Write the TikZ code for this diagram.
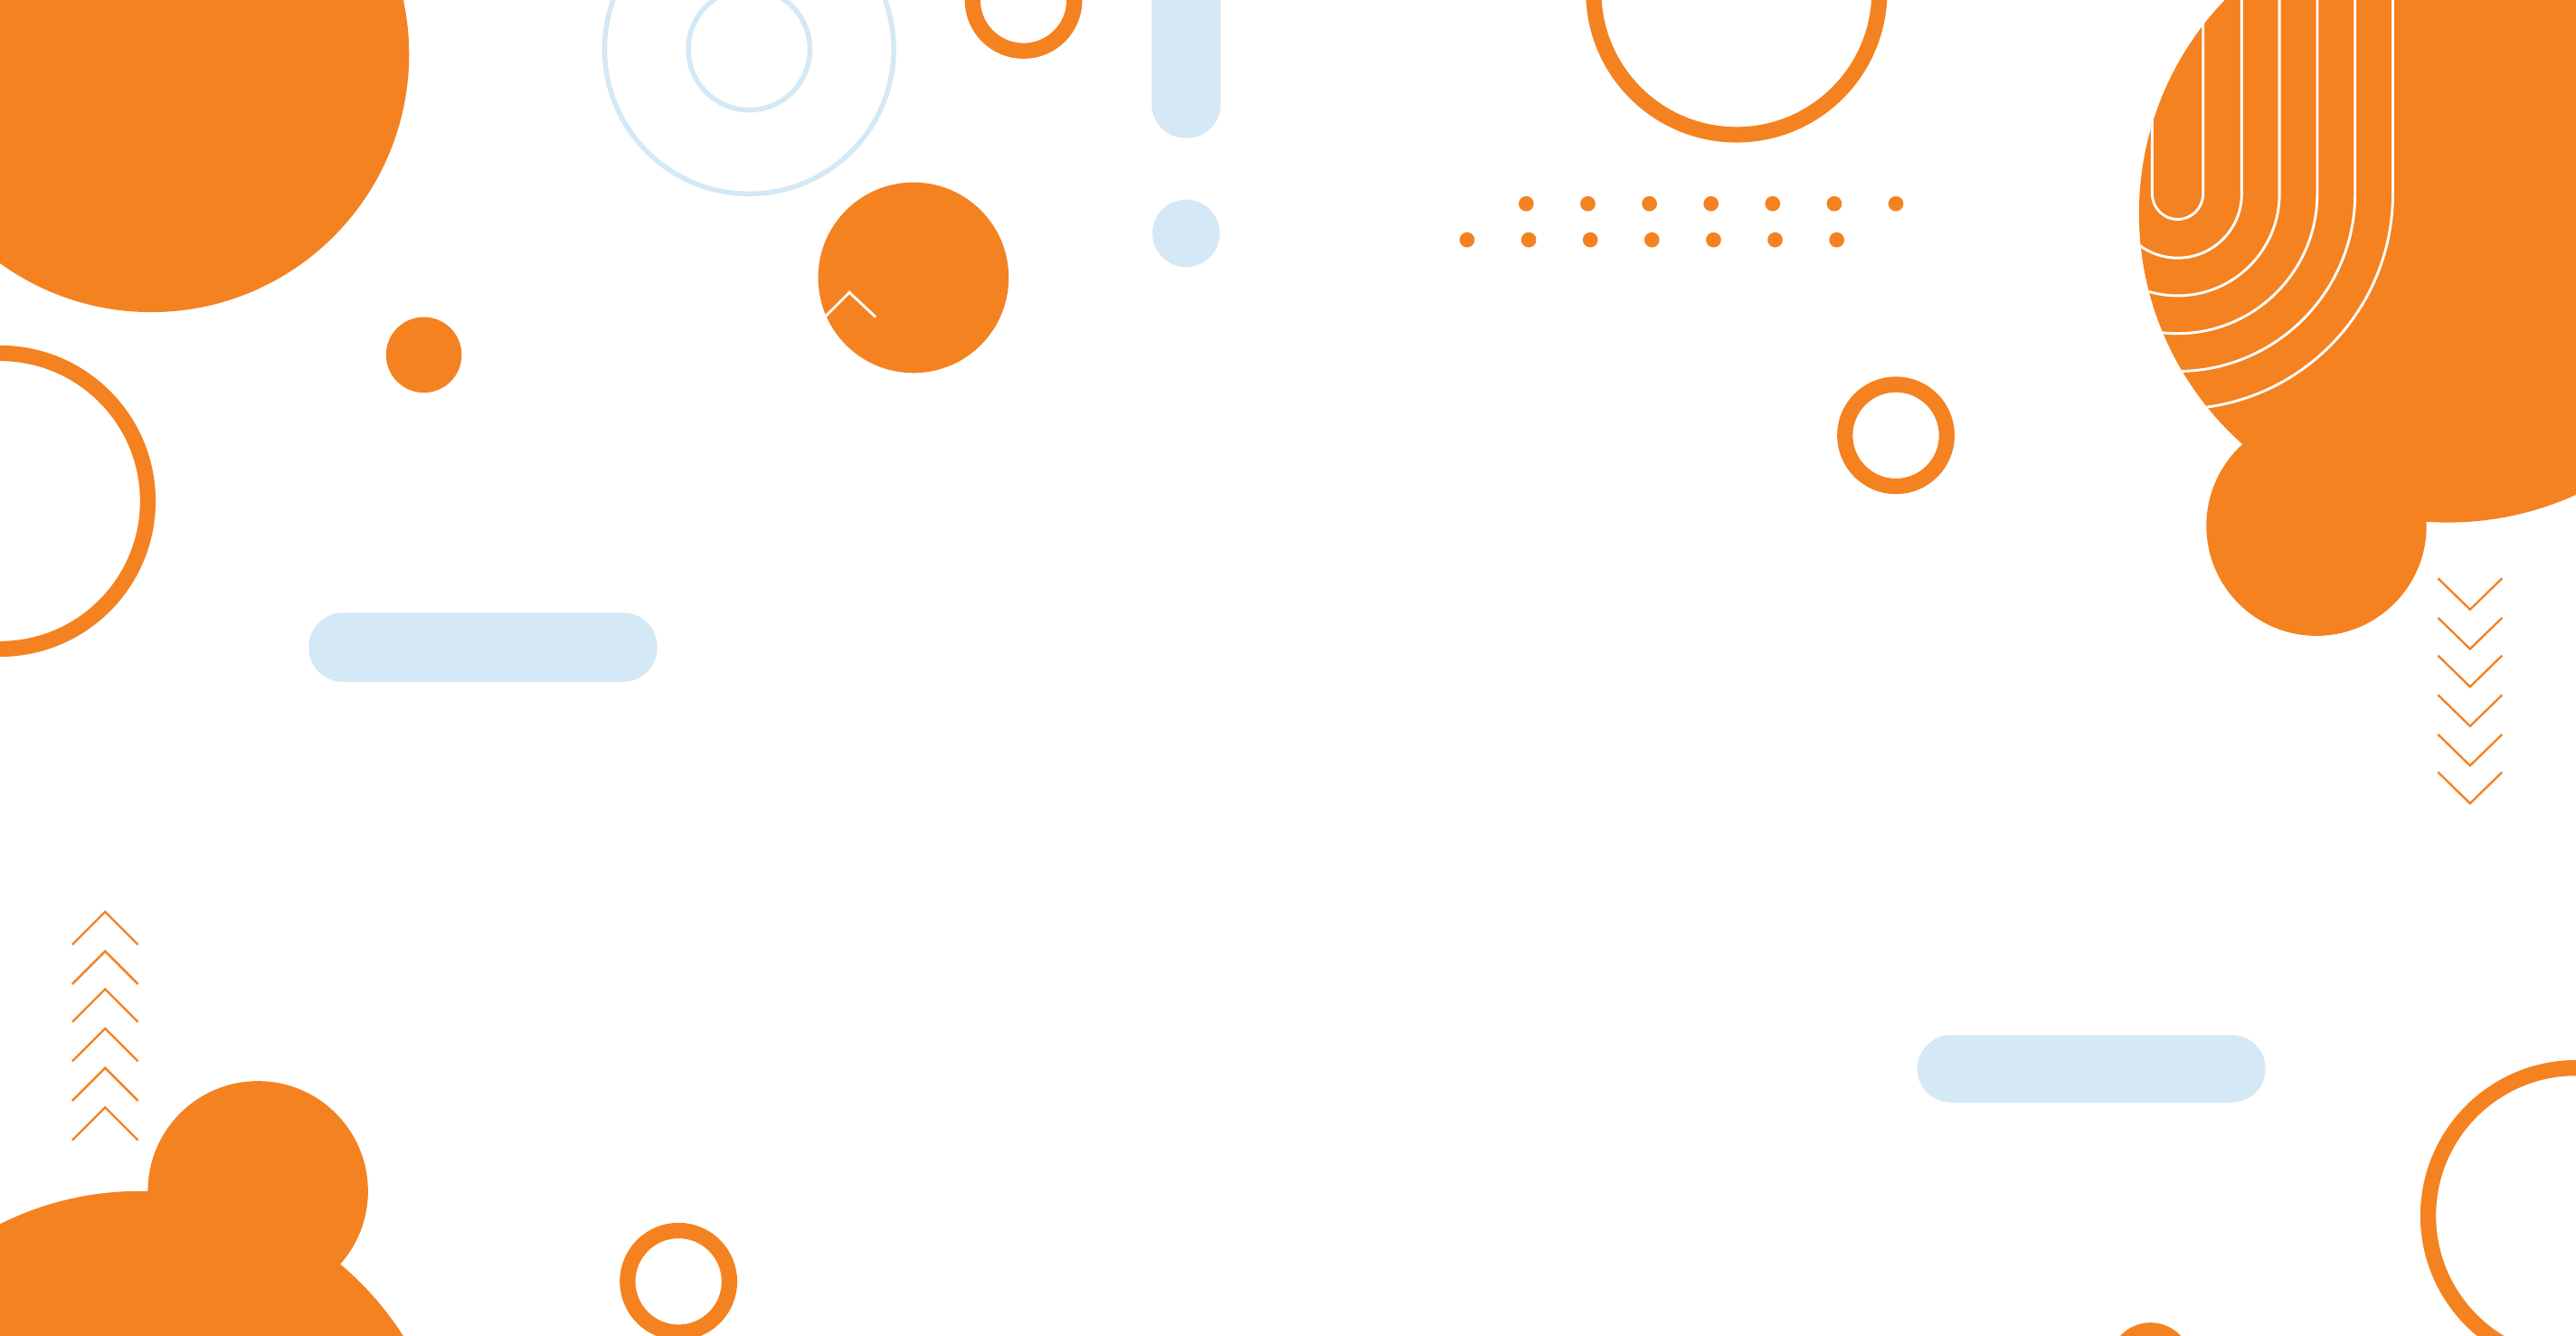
\documentclass[tikz,border=0pt]{standalone}
\definecolor{org}{HTML}{F48221}
\definecolor{lb}{HTML}{D4E8F6}
\begin{document}
\begin{tikzpicture}[x=1pt,y=-1pt,
 ring/.style={draw=org,line width=9.5pt},
 disc/.style={fill=org},
 pill/.style={fill=lb,rounded corners=20.5pt},
 chev/.style={draw=org,line width=1.3pt},
 wl/.style={draw=white,line width=1.6pt}]
\useasboundingbox (0,0) rectangle (1568,813);
\clip (0,0) rectangle (1568,813);
\fill[white] (0,0) rectangle (1568,813);
% top-left
\fill[disc] (92,33) circle (157);
\fill[disc] (258,216) circle (23);
\draw[ring] (0,305) circle (90);
\fill[pill] (188,373) rectangle (400,415);
\draw[lb,line width=3pt] (456,30) circle (88) (456,30) circle (37);
\draw[ring] (623,0) circle (31);
\fill[pill] (701,-60) rectangle (743,84);
\fill[lb] (722,142) circle (20.5);
\fill[disc] (556,169) circle (58);
\draw[wl] (502,193) -- (517,178) -- (533,193);
\draw[ring] (1057,-5) circle (87);
\foreach \i in {0,...,6}{
 \fill[org] (929+37.5*\i,124) circle (4.6);
 \fill[org] (893+37.5*\i,146) circle (4.6);}
\draw[ring] (1154,265) circle (31);
% top right
\fill[disc] (1490,130) circle (188);
\fill[disc] (1410,320) circle (67);
\begin{scope}
\clip (1490,130) circle (188);
\foreach \r in {15.5,39,62,85,108,131}
 \draw[wl] (1325.5-\r,-10) -- (1325.5-\r,118) arc[start angle=180,end angle=0,radius=\r] -- (1325.5+\r,-10);
\end{scope}
\foreach \y in {371,395,418,442,466,489}
 \draw[chev] (1484,\y-19) -- (1503.5,\y) -- (1523,\y-19);
\foreach \y in {555,579,602,626,650,674}
 \draw[chev] (44,\y+20) -- (64,\y) -- (84,\y+20);
% bottom
\fill[disc] (157,725) circle (67);
\fill[disc] (85,915) circle (190);
\begin{scope}
\clip (85,915) circle (190);
\foreach \r in {108,131}
 \draw[wl] (250-\r,900) -- (250-\r,927) arc[start angle=180,end angle=0,radius=\r];
\end{scope}
\draw[ring] (413,780) circle (31);
\fill[pill] (1167,630) rectangle (1379,671);
\draw[ring] (1568,740) circle (90);
\fill[disc] (1309,830) circle (25);
\end{tikzpicture}
\end{document}
